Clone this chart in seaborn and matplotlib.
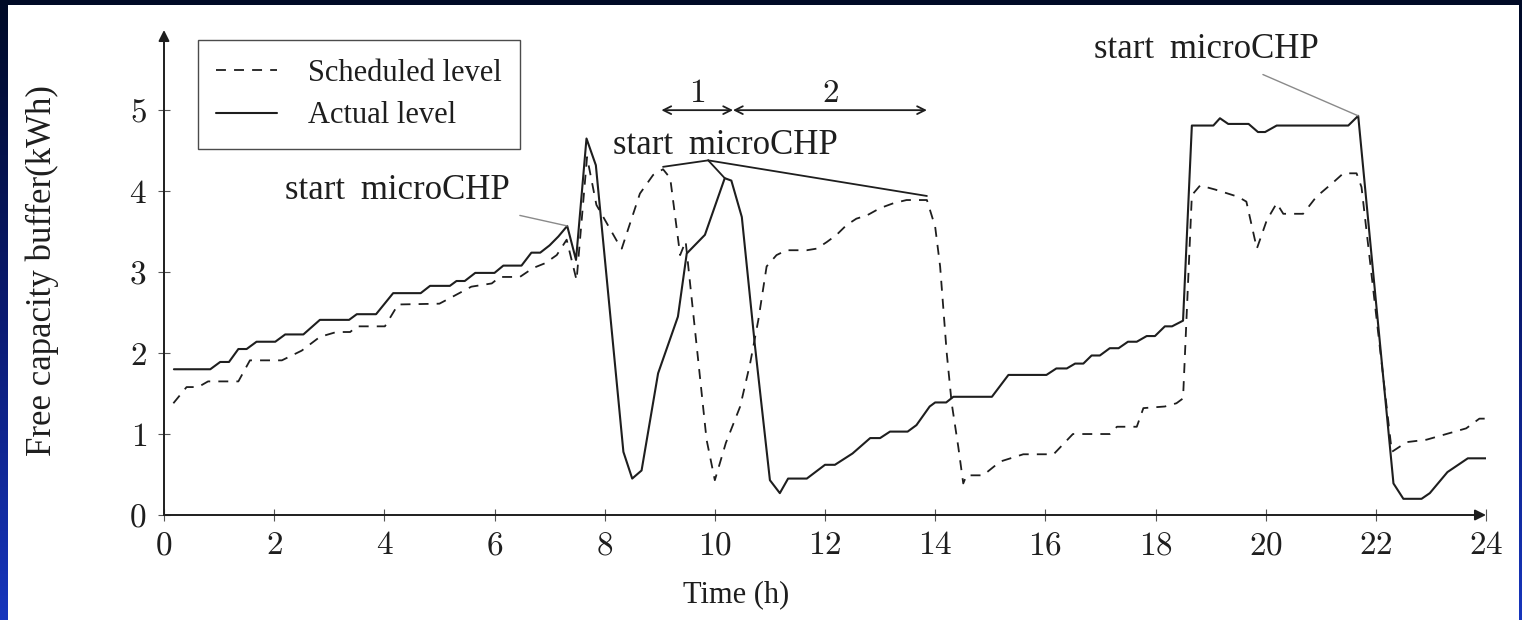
import numpy as np
import pandas as pd
import matplotlib
matplotlib.use("Agg")
import matplotlib.pyplot as plt
from matplotlib.colors import LinearSegmentedColormap
import seaborn as sns

# ---------------------------------
# Data
# ---------------------------------

actual_t = [0.18, 0.84, 1.02, 1.18, 1.35, 1.5, 1.68, 2.02, 2.2, 2.53, 2.83, 3.36, 3.5, 3.85,
            4.16, 4.66, 4.83, 5.19, 5.31, 5.46, 5.65, 6.0, 6.16, 6.49, 6.67, 6.83, 7.0, 7.16,
            7.32, 7.48, 7.67, 7.84, 8.34, 8.5, 8.67, 8.97, 9.33, 9.49, 9.82, 10.18, 10.3, 10.49,
            10.73, 11.0, 11.18, 11.33, 11.67, 12.0, 12.18, 12.5, 12.82, 13.0, 13.18, 13.5, 13.66,
            13.9, 14.0, 14.2, 14.33, 15.03, 15.33, 16.02, 16.2, 16.39, 16.54, 16.69, 16.84, 16.99,
            17.17, 17.33, 17.5, 17.66, 17.84, 17.99, 18.17, 18.3, 18.5, 18.66, 19.05, 19.17,
            19.32, 19.69, 19.86, 19.99, 20.2, 21.5, 21.68, 22.0, 22.32, 22.5, 22.83, 22.98, 23.3,
            23.67, 24.0]
actual_v = [1.80, 1.80, 1.89, 1.89, 2.05, 2.05, 2.14, 2.14, 2.23, 2.23, 2.41, 2.41, 2.48, 2.48,
            2.74, 2.74, 2.83, 2.83, 2.89, 2.89, 2.99, 2.99, 3.08, 3.08, 3.24, 3.24, 3.33, 3.44,
            3.57, 3.15, 4.65, 4.32, 0.78, 0.45, 0.55, 1.75, 2.45, 3.23, 3.46, 4.16, 4.13, 3.68,
            2.08, 0.43, 0.27, 0.45, 0.45, 0.62, 0.62, 0.76, 0.95, 0.95, 1.03, 1.03, 1.11,
            1.34, 1.39, 1.39, 1.46, 1.46, 1.73, 1.73, 1.81, 1.81, 1.87, 1.87, 1.97, 1.97,
            2.06, 2.06, 2.14, 2.14, 2.21, 2.21, 2.33, 2.33, 2.40, 4.81, 4.81, 4.90,
            4.83, 4.83, 4.73, 4.73, 4.81, 4.81, 4.93, 2.65, 0.39, 0.20, 0.20, 0.27, 0.53,
            0.70, 0.70]

sched_t = [0.17, 0.41, 0.62, 0.8, 1.35, 1.56, 2.14, 2.5, 2.83, 3.13, 3.38, 3.5, 4.01, 4.25,
           5.0, 5.25, 5.58, 5.95, 6.1, 6.46, 6.7, 6.92, 7.13, 7.31, 7.49, 7.68, 7.85, 8.25,
           8.31, 8.46, 8.64, 8.88, 9.06, 9.19, 9.37, 9.47, 9.85, 10.0, 10.2, 10.46, 10.64,
           10.79, 10.94, 11.12, 11.3, 11.67, 11.85, 12.03, 12.21, 12.39, 12.57, 12.76, 13.0,
           13.24, 13.48, 13.85, 14.0, 14.09, 14.21, 14.3, 14.42, 14.51, 14.57, 14.87, 15.18,
           15.6, 16.15, 16.5, 17.17, 17.3, 17.66, 17.78, 18.17, 18.38, 18.5, 18.66, 18.81,
           19.08, 19.5, 19.65, 19.84, 20.02, 20.2, 20.32, 20.68, 20.92, 21.23, 21.41, 21.65,
           21.74, 22.29, 22.56, 22.92, 23.28, 23.64, 23.88, 24.0]
sched_v = [1.38, 1.58, 1.58, 1.65, 1.65, 1.91, 1.91, 2.03, 2.2, 2.26, 2.26, 2.33, 2.33, 2.60,
           2.61, 2.70, 2.82, 2.86, 2.94, 2.94, 3.05, 3.11, 3.21, 3.40, 2.90, 4.42, 3.83, 3.35,
           3.29, 3.60, 3.97, 4.20, 4.27, 4.16, 3.21, 3.38, 0.93, 0.43, 0.89, 1.34, 1.87,
           2.41, 3.07, 3.21, 3.27, 3.27, 3.29, 3.37, 3.46, 3.58, 3.66, 3.70, 3.79,
           3.85, 3.89, 3.89, 3.56, 3.07, 2.0, 1.38, 0.84, 0.39, 0.49, 0.49, 0.66,
           0.75, 0.75, 1.0, 1.0, 1.09, 1.09, 1.32, 1.34, 1.38, 1.44, 3.95, 4.07,
           4.02, 3.93, 3.87, 3.29, 3.64, 3.85, 3.72, 3.72, 3.93, 4.11, 4.22, 4.22,
           4.05, 0.78, 0.9, 0.93, 1.0, 1.07, 1.19, 1.19]

x_ticks = [0, 2, 4, 6, 8, 10, 12, 14, 16, 18, 20, 22, 24]
y_ticks = [0, 1, 2, 3, 4, 5]

# ---------------------------------
# Style
# ---------------------------------

sns.set_style("white")
plt.rcParams["font.family"] = ["Liberation Serif", "DejaVu Serif"]
plt.rcParams["mathtext.fontset"] = "cm"

ink = "#1e1e1e"
FS = 22          # legend / axis labels
FS_TICK = 24     # tick numbers (CM digits)
FS_NOTE = 25     # "start microCHP" notes
NOTE = "start \u2009microCHP"

fig = plt.figure(figsize=(15.22, 6.2), dpi=100)
fig.patch.set_facecolor("white")

# dark blue frame around the slide
edge_cmap = LinearSegmentedColormap.from_list("edge", ["#1736bd", "#0a1a70", "#000a26"])
grad = np.linspace(0, 1, 256).reshape(-1, 1)
for rect in ([0, 0, 8 / 1522, 1], [1519 / 1522, 0, 3 / 1522, 1]):
    bax = fig.add_axes(rect)
    bax.imshow(grad, aspect="auto", cmap=edge_cmap, origin="lower")
    bax.axis("off")
tax = fig.add_axes([0, 1 - 5 / 620, 1, 5 / 620])
tax.set_facecolor("#000a26")
tax.set_xticks([]); tax.set_yticks([])
for s in tax.spines.values():
    s.set_visible(False)

ax = fig.add_axes([164 / 1522, 1 - 515 / 620, (1486 - 164) / 1522, 485 / 620])
ax.set_facecolor("white")

# ---------------------------------
# Lines
# ---------------------------------

sched = pd.DataFrame({"t": sched_t, "v": sched_v})
actual = pd.DataFrame({"t": actual_t, "v": actual_v})

sns.lineplot(data=sched, x="t", y="v", ax=ax, color=ink, lw=1.3,
             linestyle=(0, (5.5, 4.5)), estimator=None, label="Scheduled level")
sns.lineplot(data=actual, x="t", y="v", ax=ax, color=ink, lw=1.5,
             estimator=None, label="Actual level")

ax.set_xlim(0, 24)
ax.set_ylim(0, 5.99)

# ---------------------------------
# Axes with arrow tips
# ---------------------------------

for s in ax.spines.values():
    s.set_visible(False)
arrow_kw = dict(arrowstyle="-|>", lw=1.4, color=ink, mutation_scale=16, shrinkA=0, shrinkB=0)
ax.annotate("", xy=(0, 1), xytext=(0, 0), xycoords="axes fraction", arrowprops=arrow_kw)
ax.annotate("", xy=(1, 0), xytext=(0, 0), xycoords="axes fraction", arrowprops=arrow_kw)

ax.set_xticks(x_ticks)
ax.set_xticklabels([f"${v}$" for v in x_ticks])
ax.set_yticks(y_ticks)
ax.set_yticklabels([f"${v}$" for v in y_ticks])
ax.tick_params(axis="both", direction="inout", length=9, width=0.8, colors="#555555",
               labelsize=FS_TICK, labelcolor=ink, bottom=True, left=True)
ax.tick_params(axis="x", pad=7)
ax.tick_params(axis="y", pad=8)

ax.set_xlabel("Time (h)", fontsize=FS, color=ink, va="center")
ax.xaxis.set_label_coords(0.4327, -0.165)
ax.set_ylabel("Free capacity buffer(kWh)", fontsize=25, color=ink, va="center")
ax.yaxis.set_label_coords(-0.0923, 0.505)

# ---------------------------------
# Annotations
# ---------------------------------

gray_kw = dict(arrowstyle="-", color="#8a8a8a", lw=1.0, shrinkA=0, shrinkB=0)
dark_kw = dict(arrowstyle="-", color=ink, lw=1.3, shrinkA=0, shrinkB=0)

ax.text(4.23, 4.01, NOTE, fontsize=FS_NOTE, ha="center", va="center", color=ink)
ax.annotate("", xy=(actual_t[28], actual_v[28]), xytext=(6.46, 3.70), arrowprops=gray_kw)

ax.text(10.2, 4.56, NOTE, fontsize=FS_NOTE, ha="center", va="center", color=ink)
for tt, vv in [(sched_t[32], sched_v[32] + 0.03), (actual_t[39], actual_v[39]),
               (sched_t[55], sched_v[55] + 0.05)]:
    ax.annotate("", xy=(tt, vv), xytext=(9.88, 4.38), arrowprops=dark_kw)

ax.text(18.92, 5.75, NOTE, fontsize=FS_NOTE, ha="center", va="center", color=ink)
ax.annotate("", xy=(actual_t[86], actual_v[86]), xytext=(19.95, 5.44), arrowprops=gray_kw)

# phase arrows 1 and 2
phase_edges = [9.03, 10.33, 13.85]
phase_names = ["1", "2"]
span_kw = dict(arrowstyle="<->", color=ink, lw=1.3, shrinkA=0, shrinkB=0, mutation_scale=14)
for i, name in enumerate(phase_names):
    a, b = phase_edges[i], phase_edges[i + 1]
    ax.annotate("", xy=(a, 5.0), xytext=(b, 5.0), arrowprops=span_kw)
    ax.text((a + b) / 2, 5.2, f"${name}$", fontsize=FS_TICK, ha="center", va="center", color=ink)

# ---------------------------------
# Legend
# ---------------------------------

leg = ax.legend(loc="upper left", bbox_to_anchor=(0.0257, 0.979), borderaxespad=0,
                fontsize=FS, frameon=True, fancybox=False, handlelength=2.0,
                handletextpad=1.0, labelspacing=0.45, borderpad=0.6)
leg.get_frame().set_edgecolor(ink)
leg.get_frame().set_linewidth(1.0)
for t in leg.get_texts():
    t.set_color(ink)

fig.savefig("out.png", dpi=100)
